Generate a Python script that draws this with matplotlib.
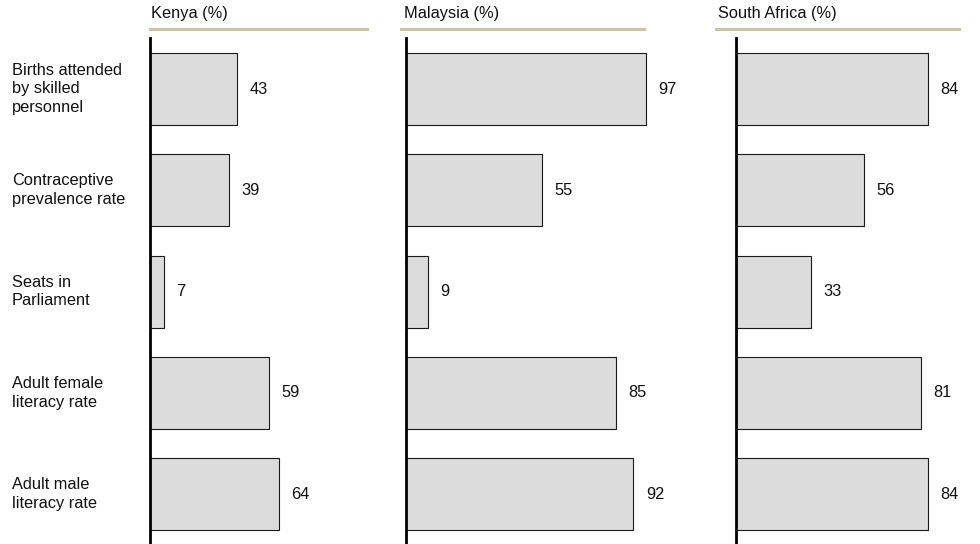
import matplotlib.pyplot as plt
from matplotlib.lines import Line2D
from matplotlib.transforms import blended_transform_factory

plt.rcParams['font.family'] = ['Liberation Sans', 'DejaVu Sans']

categories = ["Births attended\nby skilled\npersonnel",
              "Contraceptive\nprevalence rate",
              "Seats in\nParliament",
              "Adult female\nliteracy rate",
              "Adult male\nliteracy rate"]
countries = ["Kenya (%)", "Malaysia (%)", "South Africa (%)"]
kenya = [43, 39, 7, 59, 64]
malaysia = [97, 55, 9, 85, 92]
south_africa = [84, 56, 33, 81, 84]

W, H = 980, 544
fs = 11.8
fig = plt.figure(figsize=(W / 100, H / 100), dpi=100)

# panel layout in pixels: axis x, axes width, x max, header text x, line start/end
panels = [
    (kenya, 150, 230, 114, 151, 150, 367),
    (malaysia, 406, 294, 119, 404, 401, 644),
    (south_africa, 736, 244, 107, 718, 716, 959),
]

row_top = 38
y0 = (row_top - 89) / 101.3
y1 = (H - 89) / 101.3

axes = []
for (vals, ax_x, ax_w, xmax, tx, lx0, lx1), name in zip(panels, countries):
    ax = fig.add_axes([ax_x / W, 0, ax_w / W, (H - row_top) / H])
    ax.barh(range(len(vals)), vals, height=0.71, color="#dcdcdc",
            edgecolor="#1a1a1a", linewidth=0.8, left=0)
    for i, v in enumerate(vals):
        ax.annotate(str(v), (v, i), xytext=(9, 0), textcoords="offset points",
                    ha="left", va="center", fontsize=fs, color="#111111")
    ax.set_xlim(0, xmax)
    ax.set_ylim(y1, y0)
    for s in ["top", "right", "bottom"]:
        ax.spines[s].set_visible(False)
    ax.spines["left"].set_linewidth(2)
    ax.spines["left"].set_color("black")
    ax.set_xticks([])
    ax.set_yticks([])
    ax.patch.set_alpha(0)

    fig.text(tx / W, 1 - 18 / H, name, fontsize=fs, va="baseline",
             ha="left", color="#111111")
    fig.add_artist(Line2D([lx0 / W, lx1 / W], [1 - 28.5 / H, 1 - 28.5 / H],
                          transform=fig.transFigure, color="#c9c4ab",
                          linewidth=2.2))
    axes.append(ax)

trans = blended_transform_factory(fig.transFigure, axes[0].transData)
for i, c in enumerate(categories):
    axes[0].text(12 / W, i, c, transform=trans, ha="left", va="center",
                 fontsize=fs, linespacing=1.3, color="#111111")

fig.savefig("out.png", dpi=100)
